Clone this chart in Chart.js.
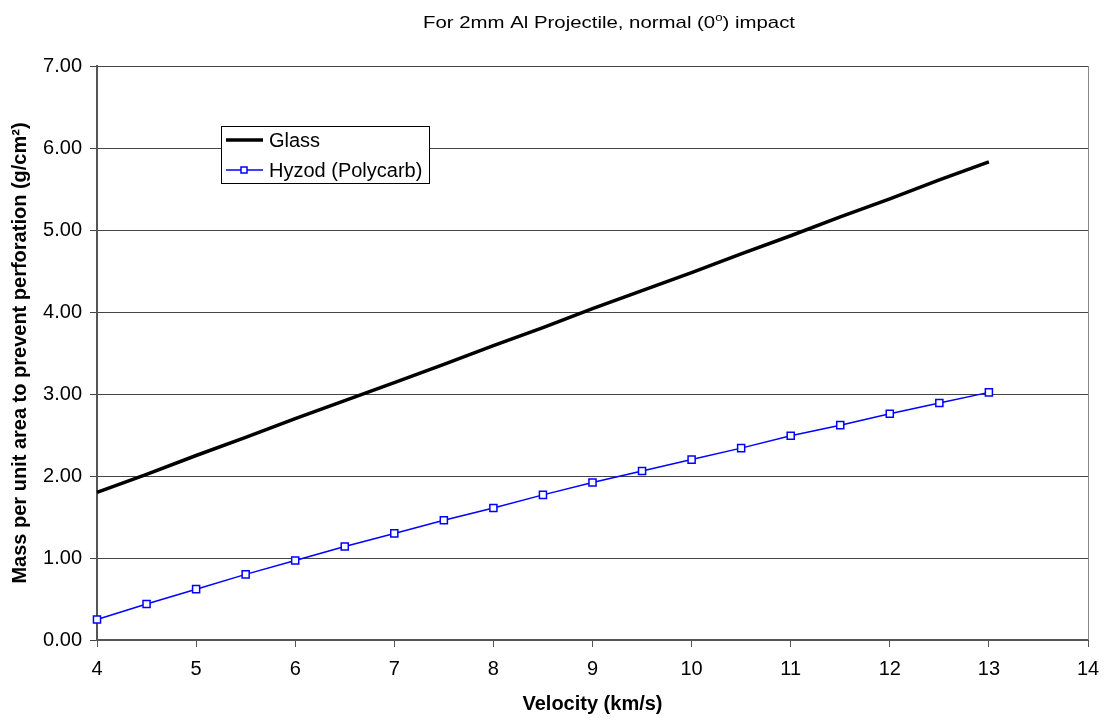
<!DOCTYPE html>
<html>
<head>
<meta charset="utf-8">
<title>Mass per unit area vs velocity</title>
<script src="https://cdn.jsdelivr.net/npm/chart.js@4.4.1/dist/chart.umd.min.js"></script>
<style>
  html, body { margin: 0; padding: 0; background: #fff; }
  #wrap { width: 1104px; height: 718px; position: relative; }
</style>
</head>
<body>
<div id="wrap"><canvas id="velChart"></canvas></div>
<script>
// data
const velocities = [4, 4.5, 5, 5.5, 6, 6.5, 7, 7.5, 8, 8.5, 9, 9.5, 10, 10.5, 11, 11.5, 12, 12.5, 13];
const glassMass = [1.80, 2.02, 2.25, 2.47, 2.70, 2.92, 3.14, 3.36, 3.59, 3.81, 4.04, 4.26, 4.48, 4.71, 4.93, 5.16, 5.38, 5.61, 5.83];
const hyzodMass = [0.25, 0.44, 0.62, 0.80, 0.97, 1.14, 1.30, 1.46, 1.61, 1.77, 1.92, 2.06, 2.20, 2.34, 2.49, 2.62, 2.76, 2.89, 3.02];
const seriesNames = ["Glass", "Hyzod (Polycarb)"];

const titleMain = "For 2mm Al Projectile, normal (0";
const titleSup = "o";
const titleEnd = ") impact";
const xTitle = "Velocity (km/s)";
const yTitle = "Mass per unit area to prevent perforation (g/cm\u00B2)";

const FONT = '"Liberation Sans", Arial, sans-serif';
Chart.defaults.font.family = FONT;
Chart.defaults.color = "#000";

function toPoints(ys) {
  return velocities.map((v, i) => ({ x: v, y: ys[i] }));
}

// title with superscript "o", drawn by hand
const titlePlugin = {
  id: "topTitle",
  afterDraw(chart) {
    const ctx = chart.ctx;
    ctx.save();
    ctx.fillStyle = "#000";
    ctx.textBaseline = "alphabetic";
    ctx.font = "17px " + FONT;
    const w1 = ctx.measureText(titleMain).width;
    const w3 = ctx.measureText(titleEnd).width;
    ctx.font = "11px " + FONT;
    const w2 = ctx.measureText(titleSup).width;
    const total = w1 + w2 + w3;
    const sx = 372 / total;
    const left = 609 - 372 / 2;
    ctx.translate(left, 27.5);
    ctx.scale(sx, 1);
    ctx.font = "17px " + FONT;
    ctx.fillText(titleMain, 0, 0);
    ctx.font = "11px " + FONT;
    ctx.fillText(titleSup, w1, -7);
    ctx.font = "17px " + FONT;
    ctx.fillText(titleEnd, w1 + w2, 0);
    ctx.restore();
  }
};

// right side frame line of the plot area
const framePlugin = {
  id: "frame",
  beforeDatasetsDraw(chart) {
    const { ctx, chartArea } = chart;
    ctx.save();
    ctx.strokeStyle = "#888";
    ctx.lineWidth = 1;
    ctx.beginPath();
    ctx.moveTo(chartArea.right + 0.5, chartArea.top);
    ctx.lineTo(chartArea.right + 0.5, chartArea.bottom);
    ctx.stroke();
    ctx.restore();
  }
};

// boxed legend inside the plot
const boxLegend = {
  id: "boxLegend",
  afterDatasetsDraw(chart) {
    const ctx = chart.ctx;
    const bx = 221, by = 126, bw = 208, bh = 57;
    ctx.save();
    ctx.fillStyle = "#fff";
    ctx.fillRect(bx, by, bw, bh);
    ctx.strokeStyle = "#000";
    ctx.lineWidth = 1;
    ctx.strokeRect(bx + 0.5, by + 0.5, bw, bh);
    chart.data.datasets.forEach((ds, i) => {
      const y = by + 14 + i * 30;
      ctx.strokeStyle = ds.borderColor;
      ctx.lineWidth = ds.borderWidth;
      ctx.beginPath();
      ctx.moveTo(bx + 5, y);
      ctx.lineTo(bx + 42, y);
      ctx.stroke();
      if (ds.pointRadius > 0) {
        ctx.fillStyle = "#fff";
        ctx.lineWidth = 1.5;
        ctx.strokeStyle = ds.pointBorderColor;
        ctx.fillRect(bx + 20, y - 3, 6, 6);
        ctx.strokeRect(bx + 20, y - 3, 6, 6);
      }
      ctx.fillStyle = "#000";
      ctx.font = "20px " + FONT;
      ctx.textBaseline = "middle";
      ctx.fillText(ds.label, bx + 48, y + 1);
    });
    ctx.restore();
  }
};

new Chart(document.getElementById("velChart"), {
  type: "line",
  data: {
    datasets: [
      {
        label: seriesNames[0],
        data: toPoints(glassMass),
        borderColor: "#000",
        borderWidth: 3.5,
        pointRadius: 0,
        tension: 0,
        clip: false
      },
      {
        label: seriesNames[1],
        data: toPoints(hyzodMass),
        borderColor: "#0000ff",
        borderWidth: 1.5,
        pointStyle: "rect",
        pointRadius: 5,
        pointBackgroundColor: "#fff",
        pointBorderColor: "#0000ff",
        pointBorderWidth: 1.5,
        tension: 0,
        clip: false
      }
    ]
  },
  options: {
    responsive: true,
    maintainAspectRatio: false,
    animation: false,
    layout: { padding: { top: 66, right: 16, left: 0, bottom: 0 } },
    plugins: {
      legend: { display: false },
      tooltip: { enabled: false }
    },
    scales: {
      x: {
        type: "linear",
        min: 4,
        max: 14,
        ticks: { stepSize: 1, font: { size: 20 }, padding: 10, color: "#000" },
        grid: { drawOnChartArea: false, drawTicks: true, tickLength: 7, color: "#555" },
        border: { color: "#555", width: 2 },
        title: {
          display: true,
          text: xTitle,
          color: "#000",
          font: { size: 20, weight: "bold" },
          padding: { top: 0, bottom: 2 }
        },
        afterFit(scale) {
          scale.height = 78;
          scale.paddingLeft = 0;
          scale.paddingRight = 0;
        }
      },
      y: {
        min: 0,
        max: 7,
        ticks: {
          stepSize: 1,
          font: { size: 20 },
          padding: 8,
          color: "#000",
          callback: (v) => v.toFixed(2)
        },
        grid: { color: "#444", tickLength: 7 },
        border: { color: "#555", width: 2 },
        title: {
          display: true,
          text: yTitle,
          color: "#000",
          font: { size: 20, weight: "bold" },
          padding: { top: 8, bottom: 0 }
        },
        afterFit(scale) { scale.width = 97; }
      }
    }
  },
  plugins: [titlePlugin, framePlugin, boxLegend]
});
</script>
</body>
</html>
